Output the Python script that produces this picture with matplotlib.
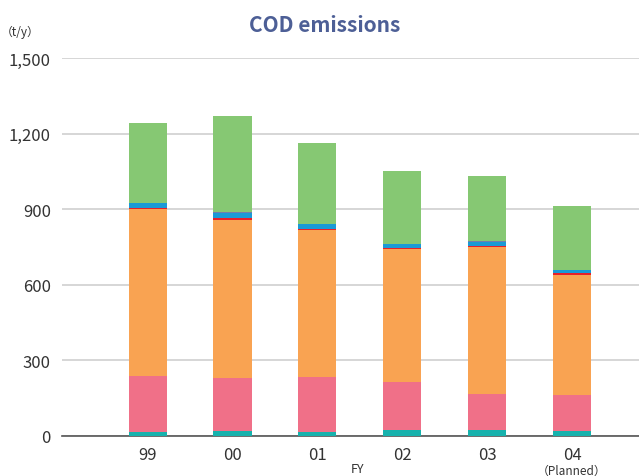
import matplotlib
matplotlib.use("Agg")
import matplotlib.pyplot as plt
import numpy as np

plt.rcParams['font.family'] = ['Noto Sans CJK JP', 'DejaVu Sans']

years = ["99", "00", "01", "02", "03", "04"]
teal = [17, 21, 16, 24, 24, 21]
pink = [221, 209, 218, 190, 144, 143]
orange = [664, 627, 583, 528, 582, 476]
red = [4, 8, 4, 4, 4, 6]
blue = [19, 20, 21, 16, 15, 13]
gray = [0, 4, 0, 0, 5, 0]
green = [317, 381, 321, 290, 258, 254]

series = [
    (teal, "#17b2ad"),
    (pink, "#f07088"),
    (orange, "#f9a352"),
    (red, "#e8202a"),
    (blue, "#1a9ad6"),
    (gray, "#6f7fae"),
    (green, "#86c873"),
]

fig = plt.figure(figsize=(6.39, 4.77), dpi=100)
ax = fig.add_axes([62/639, 1-437/477, 1-62/639, (437-59)/477])

x = np.arange(len(years))
bottom = np.zeros(len(years))
for vals, col in series:
    v = np.array(vals, dtype=float)
    ax.bar(x, v, bottom=bottom, width=0.45, color=col, linewidth=0, zorder=3)
    bottom += v

ax.set_ylim(0, 1500)
ax.set_xlim(-1.01, 5.79)
ax.set_yticks([0, 300, 600, 900, 1200, 1500])
ax.set_yticklabels(["0", "300", "600", "900", "1,200", "1,500"])
ax.yaxis.grid(True, color="#d0d0d0", linewidth=1.2, zorder=0)
ax.set_xticks(x)
ax.set_xticklabels(years)
for s in ["top", "right", "left"]:
    ax.spines[s].set_visible(False)
ax.spines["bottom"].set_color("#555555")
ax.spines["bottom"].set_linewidth(1.2)
ax.tick_params(axis="both", length=0, labelsize=12, colors="#333333")
ax.tick_params(axis="y", pad=8)
ax.tick_params(axis="x", pad=7)

fig.text(358/639, 1-470/477, "FY", ha="center", va="center", fontsize=9, color="#333333")
fig.text(572/639, 1-471/477, "（Planned）", ha="center", va="center", fontsize=8.5, color="#333333")
fig.text(20/639, 1-32/477, "（t/y）", ha="center", va="center", fontsize=8.5, color="#333333")
fig.text(325/639, 1-25/477, "COD emissions", ha="center", va="center", fontsize=15,
         color="#4d5f96", fontweight="bold")

fig.savefig("out.png", dpi=100)
